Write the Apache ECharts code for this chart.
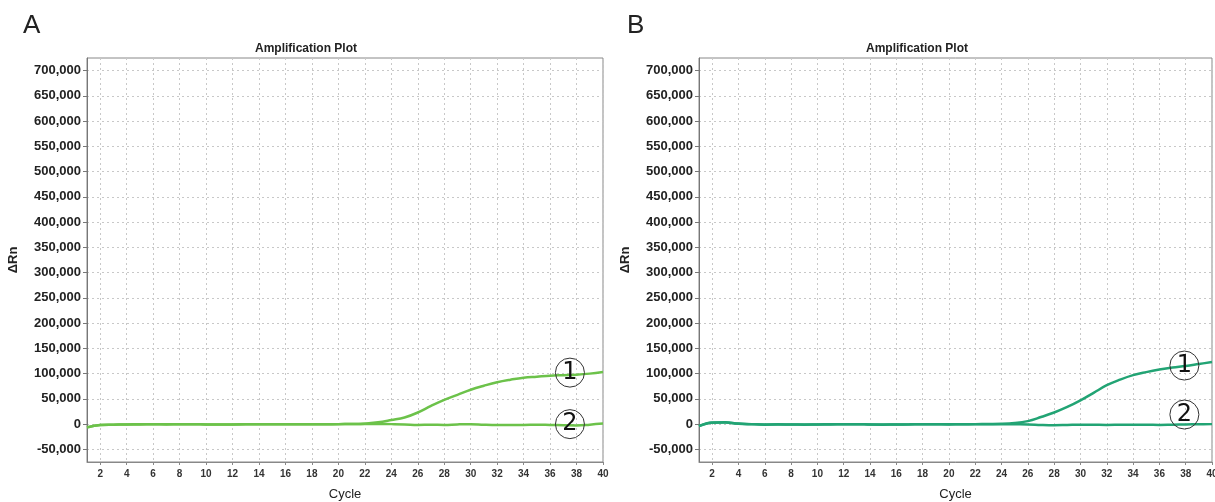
<!DOCTYPE html>
<html>
<head>
<meta charset="utf-8">
<style>
  html, body { margin: 0; padding: 0; background: #fff; }
  #chart { width: 1215px; height: 502px; }
</style>
<script src="https://cdn.jsdelivr.net/npm/echarts@6/dist/echarts.min.js"></script>
</head>
<body>
<div id="chart"></div>
<script>
var cycles = [];
for (var i = 1; i <= 40; i++) cycles.push(i);

var xTicks = [2, 4, 6, 8, 10, 12, 14, 16, 18, 20, 22, 24, 26, 28, 30, 32, 34, 36, 38, 40];
var yTicks = [-50000, 0, 50000, 100000, 150000, 200000, 250000, 300000, 350000,
  400000, 450000, 500000, 550000, 600000, 650000, 700000];

// panel A
var sampleA1 = [-6000, -1500, -1000, -800, -500, -300, -400, -200, -300, -600,
  -800, -700, -400, -200, -300, -400, -300, -200, -100, 0,
  200, 800, 3500, 8000, 13000, 23000, 36000, 48000, 58000, 68000,
  76000, 83000, 88000, 92000, 94000, 96000, 97000, 98000, 100000, 103000];
var sampleA2 = [-7000, -1500, -1000, -500, -400, -300, -500, -300, -200, -500,
  -700, -600, -300, -200, -300, -400, -300, -200, -100, 0,
  300, 500, 300, 0, -500, -1500, -1000, -1500, -500, 0,
  -1000, -1500, -1500, -1500, -1000, -1500, -2000, -2500, -1000, 1000];

// panel B
var sampleB1 = [-4000, 3000, 3500, 1000, 0, -1000, -500, -800, -1000, -700,
  -500, -300, 0, -800, -1000, -800, -500, 0, -200, -500,
  -300, 0, 200, 500, 2000, 6000, 14000, 23000, 34000, 47000,
  62000, 77000, 88000, 97000, 103000, 108000, 112000, 115000, 119000, 123000];
var sampleB2 = [-4000, 2500, 3000, 800, -200, -800, -400, -700, -900, -600,
  -400, -300, 0, -700, -900, -700, -400, 0, -200, -400,
  -300, 0, 0, 0, -300, -500, -1500, -2000, -1500, -1000,
  -1200, -1500, -1200, -1000, -1300, -1500, -1000, -500, -200, 0];

var colorA = '#6cc24a';
var colorB = '#22a474';

function pairs(arr) {
  return arr.map(function(v, i) { return [cycles[i], v]; });
}

function fmt(v) {
  return v.toLocaleString('en-US');
}

var grids = [
  { left: 87, right: 612, top: 58, bottom: 40 },
  { left: 699, right: 3, top: 58, bottom: 40 }
];

function xAxisFor(idx) {
  return {
    type: 'value', gridIndex: idx, min: 1, max: 40,
    name: 'Cycle', nameLocation: 'middle', nameGap: 26,
    nameTextStyle: { fontFamily: 'Liberation Sans', fontSize: 13, color: '#222' },
    axisLine: { show: true, onZero: false, lineStyle: { color: '#888' } },
    axisTick: { show: true, length: 3, customValues: xTicks, lineStyle: { color: '#888' } },
    axisLabel: {
      customValues: xTicks, fontFamily: 'Liberation Sans', fontSize: 10,
      fontWeight: 'bold', color: '#333', margin: 7
    },
    splitLine: { show: true, lineStyle: { color: '#c8c8c8', type: [2, 3] } }
  };
}

function yAxisFor(idx) {
  return {
    type: 'value', gridIndex: idx, min: -75000, max: 725000,
    name: 'ΔRn', nameLocation: 'middle', nameGap: 67, nameRotate: 90,
    nameTextStyle: { fontFamily: 'Liberation Sans', fontSize: 13, fontWeight: 'bold', color: '#222' },
    axisLine: { show: true, onZero: false, lineStyle: { color: '#777' } },
    axisTick: { show: true, length: 4, customValues: yTicks, lineStyle: { color: '#777' } },
    axisLabel: {
      customValues: yTicks, formatter: fmt, fontFamily: 'Liberation Sans', fontSize: 13,
      fontWeight: 'bold', color: '#222', margin: 6
    },
    splitLine: { show: true, lineStyle: { color: '#c8c8c8', type: [2, 3] } }
  };
}

function circleMark(label, coord) {
  return {
    coord: coord,
    symbol: 'circle',
    symbolSize: 29,
    itemStyle: { color: 'rgba(255,255,255,0)', borderColor: '#333', borderWidth: 1 },
    label: {
      show: true, position: 'inside', formatter: label,
      fontFamily: 'DejaVu Sans', fontSize: 24, color: '#111'
    }
  };
}

function curve(name, data, color, idx, mark) {
  var s = {
    name: name, type: 'line', xAxisIndex: idx, yAxisIndex: idx,
    data: pairs(data), smooth: 0.4, showSymbol: false,
    lineStyle: { color: color, width: 2.5 },
    itemStyle: { color: color },
    z: 3
  };
  if (mark) {
    s.markPoint = { silent: true, z: 5, data: [mark] };
  }
  return s;
}

var chart = echarts.init(document.getElementById('chart'));
chart.setOption({
  backgroundColor: '#fff',
  animation: false,
  title: [
    { text: 'A', left: 18, top: 8, textStyle: { fontFamily: 'Liberation Sans', fontSize: 26, fontWeight: 'normal', color: '#222' } },
    { text: 'B', left: 622, top: 8, textStyle: { fontFamily: 'Liberation Sans', fontSize: 26, fontWeight: 'normal', color: '#222' } },
    { text: 'Amplification Plot', left: 301, top: 38, textAlign: 'center', textStyle: { fontFamily: 'Liberation Sans', fontSize: 12, fontWeight: 'bold', color: '#222' } },
    { text: 'Amplification Plot', left: 912, top: 38, textAlign: 'center', textStyle: { fontFamily: 'Liberation Sans', fontSize: 12, fontWeight: 'bold', color: '#222' } }
  ],
  grid: grids.map(function(g) {
    return {
      left: g.left, right: g.right, top: g.top, bottom: g.bottom,
      outerBoundsMode: 'none', containLabel: false,
      show: true, borderColor: '#888', borderWidth: 1, backgroundColor: '#fff'
    };
  }),
  xAxis: [xAxisFor(0), xAxisFor(1)],
  yAxis: [yAxisFor(0), yAxisFor(1)],
  series: [
    curve('A1', sampleA1, colorA, 0, circleMark('1', [37.5, 102000])),
    curve('A2', sampleA2, colorA, 0, circleMark('2', [37.5, 0])),
    curve('B1', sampleB1, colorB, 1, circleMark('1', [37.9, 116000])),
    curve('B2', sampleB2, colorB, 1, circleMark('2', [37.9, 19000]))
  ]
});
</script>
</body>
</html>
